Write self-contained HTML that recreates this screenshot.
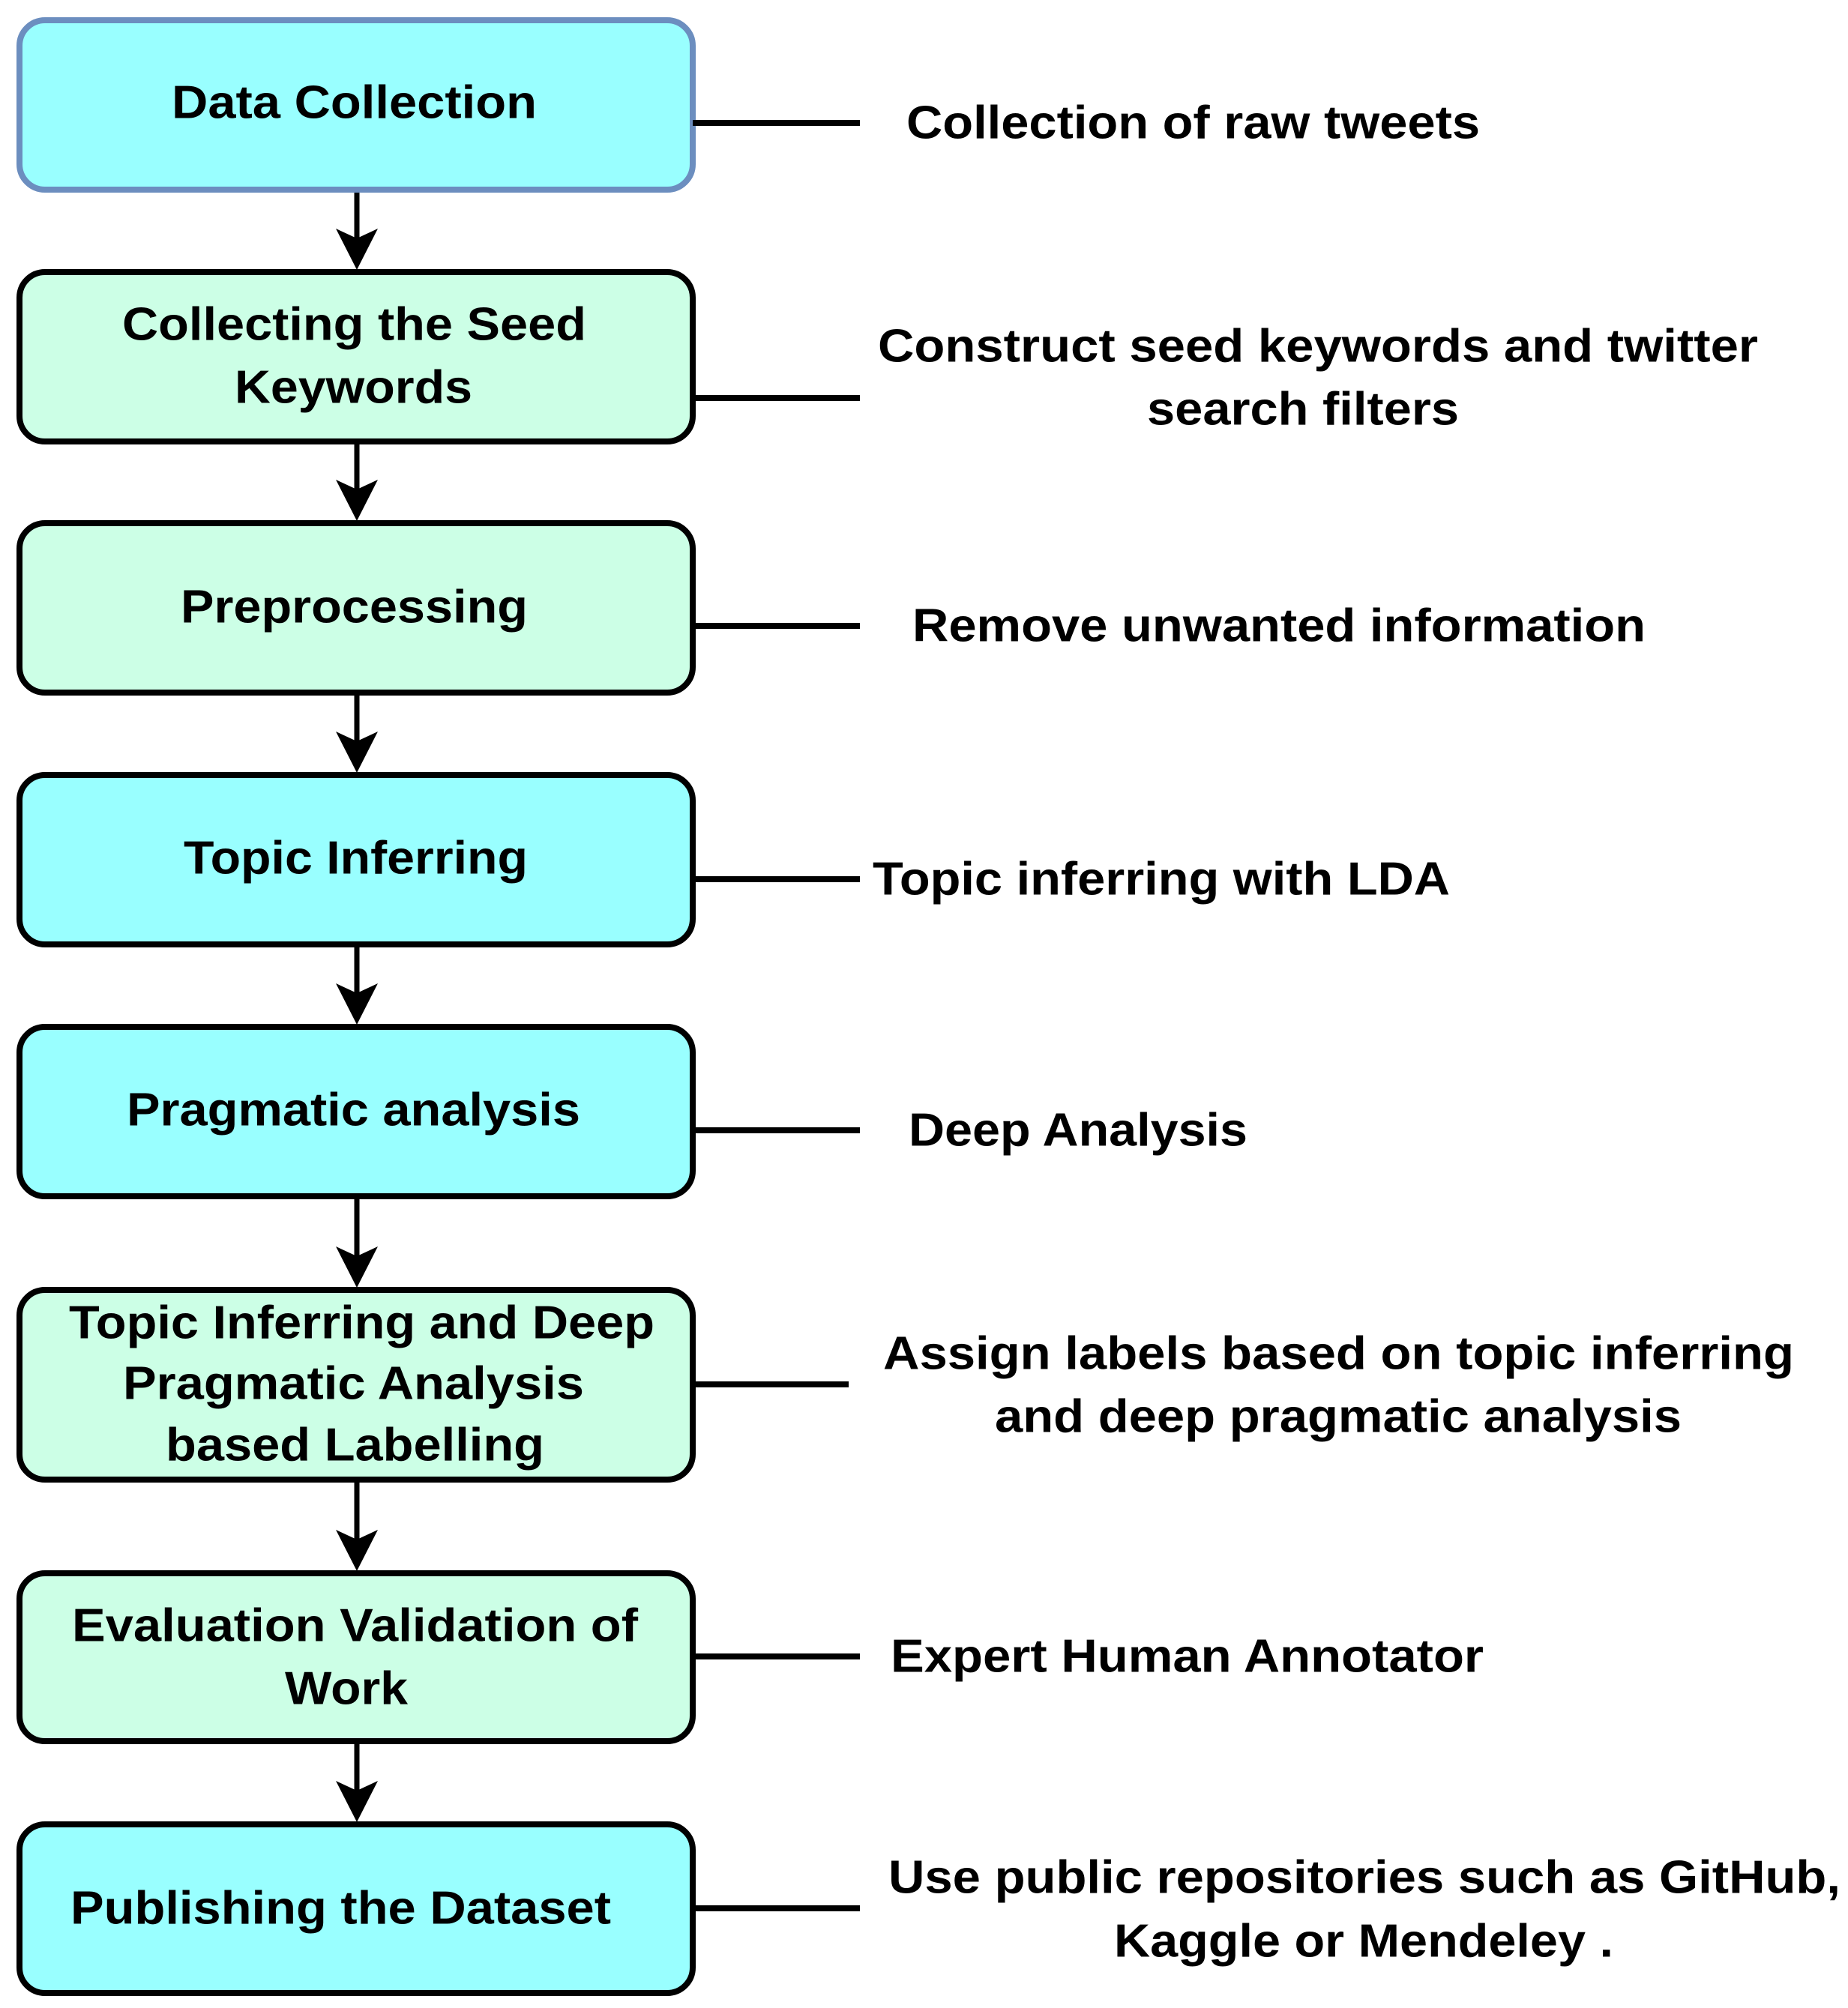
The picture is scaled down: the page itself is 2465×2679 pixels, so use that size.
<!DOCTYPE html>
<html><head><meta charset="utf-8"><style>html,body{margin:0;padding:0;background:#fff}svg{display:block}</style></head>
<body>
<svg width="2465" height="2679" viewBox="0 0 2465 2679" xmlns="http://www.w3.org/2000/svg" font-family="Liberation Sans, Arial, sans-serif" font-weight="bold" font-size="62">
<defs>
<marker id="ah" markerWidth="10" markerHeight="10" refX="9" refY="5" orient="auto" markerUnits="userSpaceOnUse" viewBox="0 0 10 10"></marker>
</defs>
<rect width="2465" height="2679" fill="#fff"/>
<g stroke-width="8">
<rect x="26" y="27" width="898" height="226" rx="34" fill="#99ffff" stroke="#6c8ebf"/>
<rect x="26" y="363" width="898" height="226" rx="34" fill="#ccffe6" stroke="#000"/>
<rect x="26" y="698" width="898" height="226" rx="34" fill="#ccffe6" stroke="#000"/>
<rect x="26" y="1034" width="898" height="226" rx="34" fill="#99ffff" stroke="#000"/>
<rect x="26" y="1370" width="898" height="226" rx="34" fill="#99ffff" stroke="#000"/>
<rect x="26" y="1721" width="898" height="253" rx="34" fill="#ccffe6" stroke="#000"/>
<rect x="26" y="2099" width="898" height="224" rx="34" fill="#ccffe6" stroke="#000"/>
<rect x="26" y="2434" width="898" height="225" rx="34" fill="#99ffff" stroke="#000"/>
</g>
<g stroke="#000" stroke-width="7">
<line x1="476" y1="257" x2="476" y2="330"/>
<line x1="476" y1="593" x2="476" y2="665"/>
<line x1="476" y1="928" x2="476" y2="1001"/>
<line x1="476" y1="1264" x2="476" y2="1337"/>
<line x1="476" y1="1600" x2="476" y2="1688"/>
<line x1="476" y1="1978" x2="476" y2="2066"/>
<line x1="476" y1="2327" x2="476" y2="2401"/>
</g>
<g fill="#000">
<path d="M448 305 L476 318 L504 305 L476 360 Z"/>
<path d="M448 640 L476 653 L504 640 L476 695 Z"/>
<path d="M448 976 L476 989 L504 976 L476 1031 Z"/>
<path d="M448 1312 L476 1325 L504 1312 L476 1367 Z"/>
<path d="M448 1663 L476 1676 L504 1663 L476 1718 Z"/>
<path d="M448 2041 L476 2054 L504 2041 L476 2096 Z"/>
<path d="M448 2376 L476 2389 L504 2376 L476 2431 Z"/>
</g>
<g stroke="#000" stroke-width="8">
<line x1="924" y1="164" x2="1147" y2="164"/>
<line x1="924" y1="531" x2="1147" y2="531"/>
<line x1="924" y1="835" x2="1147" y2="835"/>
<line x1="924" y1="1173" x2="1147" y2="1173"/>
<line x1="924" y1="1508" x2="1147" y2="1508"/>
<line x1="924" y1="1847" x2="1132" y2="1847"/>
<line x1="924" y1="2210" x2="1147" y2="2210"/>
<line x1="924" y1="2546" x2="1147" y2="2546"/>
</g>
<g fill="#000" dominant-baseline="central" lengthAdjust="spacingAndGlyphs">
<text x="229" y="137" textLength="487" lengthAdjust="spacingAndGlyphs">Data Collection</text>
<text x="163" y="433" textLength="619" lengthAdjust="spacingAndGlyphs">Collecting the Seed</text>
<text x="313" y="517" textLength="317" lengthAdjust="spacingAndGlyphs">Keywords</text>
<text x="241" y="810" textLength="463" lengthAdjust="spacingAndGlyphs">Preprocessing</text>
<text x="245" y="1145" textLength="459" lengthAdjust="spacingAndGlyphs">Topic Inferring</text>
<text x="169" y="1481" textLength="605" lengthAdjust="spacingAndGlyphs">Pragmatic analysis</text>
<text x="92" y="1765" textLength="781" lengthAdjust="spacingAndGlyphs">Topic Inferring and Deep</text>
<text x="164" y="1846" textLength="615" lengthAdjust="spacingAndGlyphs">Pragmatic Analysis</text>
<text x="221" y="1928" textLength="505" lengthAdjust="spacingAndGlyphs">based Labelling</text>
<text x="96" y="2169" textLength="755" lengthAdjust="spacingAndGlyphs">Evaluation Validation of</text>
<text x="380" y="2253" textLength="164" lengthAdjust="spacingAndGlyphs">Work</text>
<text x="94" y="2546" textLength="721" lengthAdjust="spacingAndGlyphs">Publishing the Dataset</text>

<text x="1209" y="164" textLength="765" lengthAdjust="spacingAndGlyphs">Collection of raw tweets</text>
<text x="1171" y="462" textLength="1174" lengthAdjust="spacingAndGlyphs">Construct seed keywords and twitter</text>
<text x="1530" y="546" textLength="416" lengthAdjust="spacingAndGlyphs">search filters</text>
<text x="1217" y="835" textLength="978" lengthAdjust="spacingAndGlyphs">Remove unwanted information</text>
<text x="1164" y="1173" textLength="770" lengthAdjust="spacingAndGlyphs">Topic inferring with LDA</text>
<text x="1212" y="1508" textLength="452" lengthAdjust="spacingAndGlyphs">Deep Analysis</text>
<text x="1178" y="1806" textLength="1215" lengthAdjust="spacingAndGlyphs">Assign labels based on topic inferring</text>
<text x="1327" y="1890" textLength="916" lengthAdjust="spacingAndGlyphs">and deep pragmatic analysis</text>
<text x="1188" y="2210" textLength="791" lengthAdjust="spacingAndGlyphs">Expert Human Annotator</text>
<text x="1185" y="2505" textLength="1270" lengthAdjust="spacingAndGlyphs">Use public repositories such as GitHub,</text>
<text x="1486" y="2590" textLength="666" lengthAdjust="spacingAndGlyphs">Kaggle or Mendeley .</text>
</g>
</svg>
</body></html>
